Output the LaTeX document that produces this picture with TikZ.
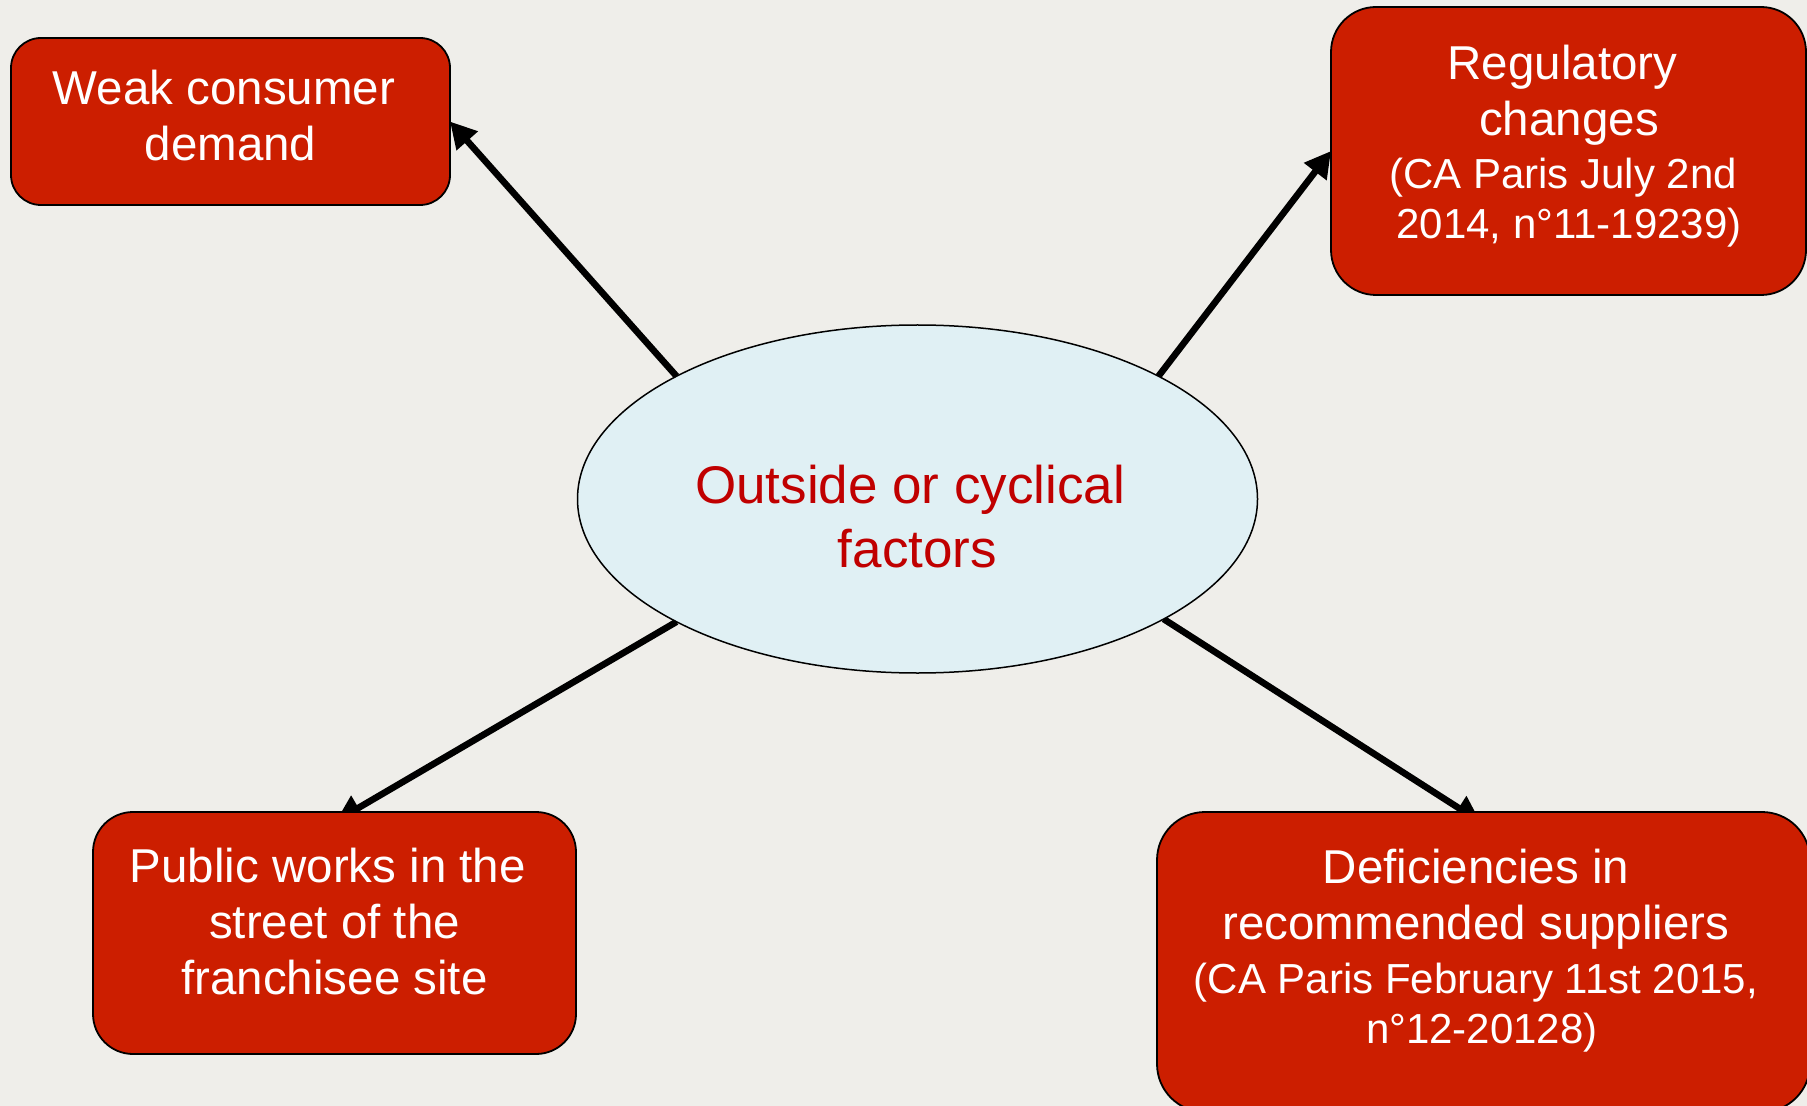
\documentclass[tikz,border=0pt]{standalone}
\usepackage{fontspec}
\setmainfont{Liberation Sans}
\usetikzlibrary{arrows.meta,shapes.geometric}
\definecolor{bgc}{HTML}{EFEEEA}
\definecolor{boxred}{HTML}{CC1E00}
\definecolor{elfill}{HTML}{E0F0F4}
\definecolor{eltext}{HTML}{C00000}
\newcommand\smtxt{\fontsize{21}{25}\selectfont}
\newcommand\trsp{\hspace*{0.278em}}
\pgfdeclarelayer{bglayer}
\pgfdeclarelayer{arrowlayer}
\pgfsetlayers{bglayer,arrowlayer,main}
\begin{document}
\begin{tikzpicture}[x=0.5pt,y=-0.5pt,
  redbox/.style={draw=black, line width=0.9pt, fill=boxred, rectangle, inner sep=0pt, outer sep=0pt},
  boxtext/.style={text=white, align=center, anchor=north, inner sep=0pt, font=\fontsize{23.75}{28}\selectfont},
  conn/.style={draw=black, line width=3.3pt, -{Triangle[length=13pt,width=13.5pt]}}
]
\useasboundingbox (0,0) rectangle (1807,1106);
\begin{pgfonlayer}{bglayer}
\fill[bgc] (0,0) rectangle (1807,1106);
\end{pgfonlayer}

\node[redbox, minimum width=219.5pt, minimum height=83.5pt, rounded corners=15pt] (weak) at (230.5,121.5) {};
\node[redbox, minimum width=237.5pt, minimum height=144pt, rounded corners=22.5pt] (reg) at (1568.5,151) {};
\node[redbox, minimum width=241.5pt, minimum height=121pt, rounded corners=20pt] (pub) at (334.5,933) {};
\node[redbox, minimum width=326.5pt, minimum height=150pt, rounded corners=24pt] (def) at (1483.5,962) {};
\node[draw=black, line width=0.75pt, fill=elfill, ellipse, minimum width=340pt, minimum height=174pt, inner sep=0pt, outer sep=0pt] (ell) at (917.5,499) {};

\node[boxtext] (weakt) at (230.5,70) {Weak consumer\trsp\\demand};
\node[boxtext] (regt) at (1569,45) {Regulatory\trsp\\changes\\[-1.5pt]{\smtxt (CA Paris July 2nd\trsp\trsp}\\[-3pt]{\smtxt 2014, n°11-19239)}};
\node[boxtext] (pubt) at (334.5,848) {Public works in the\trsp\\street of the\trsp\\franchisee site};
\node[boxtext] (deft) at (1476,849) {Deficiencies in\\recommended suppliers\\[-1pt]{\smtxt (CA Paris February 11st 2015,}\\[-3pt]{\smtxt\trsp n°12-20128)}};
\node[text=eltext, align=center, anchor=north, inner sep=0pt, font=\fontsize{26.5}{32}\selectfont] (ellt) at (917.5,465) {Outside or cyclical\trsp\\factors};

\coordinate (pubtip) at (336,821);
\coordinate (deftip) at (1480.5,822);
\begin{pgfonlayer}{arrowlayer}
\draw[conn] (ell.153.5) -- (weak.east);
\draw[conn] (ell.27.3) -- (reg.west);
\draw[conn] (ell.207.1) -- (pubtip);
\draw[conn] (ell.-26.5) -- (deftip);
\end{pgfonlayer}
\end{tikzpicture}
\end{document}
